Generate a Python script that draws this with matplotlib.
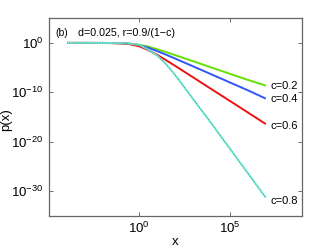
import matplotlib
matplotlib.use("Agg")
import matplotlib.pyplot as plt
from matplotlib.ticker import NullLocator

plt.rcParams['font.family'] = ['Liberation Sans', 'DejaVu Sans']
plt.rcParams['mathtext.fontset'] = 'custom'
plt.rcParams['mathtext.rm'] = 'Liberation Sans'
plt.rcParams['mathtext.it'] = 'Liberation Sans:italic'

# data
x = [1e-4, 1e-3, 1e-2, 1e-1, 0.3, 1, 3, 10, 30, 100, 1e3, 1e4, 1e5, 1e6, 1e7]
p_c02 = [1.0, 1.0, 0.99, 0.89, 0.72, 0.42, 0.18, 5e-2, 1.4e-2, 3.1e-3, 1.8e-4, 1e-5, 5.6e-7, 3.2e-8, 2.2e-9]
p_c04 = [1.0, 1.0, 0.99, 0.86, 0.66, 0.33, 0.11, 2.1e-2, 4.1e-3, 6.2e-4, 1.6e-5, 4e-7, 1e-8, 2.5e-10, 5e-12]
p_c06 = [1.0, 1.0, 0.98, 0.80, 0.54, 0.20, 3.8e-2, 3.6e-3, 3.1e-4, 2e-5, 9e-8, 4e-10, 1.8e-12, 8e-15, 3.5e-17]
p_c08 = [1.0, 1.0, 0.98, 0.90, 0.70, 0.40, 5e-2, 2.5e-3, 5e-5, 2.5e-7, 3e-12, 4e-17, 4e-22, 4e-27, 4e-32]
labels = ['c=0.2', 'c=0.4', 'c=0.6', 'c=0.8']
colors = ['#66e000', '#3355ff', '#ee1111', '#66f0d8']
series = [p_c02, p_c04, p_c06, p_c08]
label_dy = [0, 0, -1.2, -2.0]

fig = plt.figure(figsize=(3.32, 2.5), dpi=100)
ax = fig.add_axes([0.1476, 0.138, 0.762, 0.789])

for ys, col in zip(series, colors):
    ax.loglog(x, ys, color=col, lw=1.4, solid_capstyle='butt')
ax.loglog(x, p_c08, color='#707070', lw=0.6, ls=(0, (1, 2)))

for ys, lab, dy in zip(series, labels, label_dy):
    ax.annotate(lab, xy=(x[-1], ys[-1]), xytext=(3.5, dy), textcoords='offset points',
                va='center', ha='left', fontsize=8)

ax.set_xlim(1e-5, 1e9)
ax.set_ylim(1e-35, 1e5)
ax.set_xticks([1e0, 1e5])
ax.set_yticks([1e-30, 1e-20, 1e-10, 1e0])
ax.xaxis.set_minor_locator(NullLocator())
ax.yaxis.set_minor_locator(NullLocator())
ax.tick_params(which='both', direction='in', top=True, right=True, length=3,
               width=0.6, color='#555555', labelsize=9.5, pad=4)
for s in ax.spines.values():
    s.set_color('#666666')
    s.set_linewidth(0.9)

ax.set_xlabel('x', fontsize=9.5, labelpad=0)
ax.set_ylabel('p(x)', fontsize=9.5)
ax.yaxis.set_label_coords(-0.144, 0.485)

ax.text(0.024, 0.925, '(b)', transform=ax.transAxes, fontsize=7.5, va='center', ha='left')
ax.text(0.116, 0.925, 'd=0.025, r=0.9/(1\u2212c)', transform=ax.transAxes, fontsize=7.7,
        va='center', ha='left')

fig.savefig('out.png', dpi=100)
